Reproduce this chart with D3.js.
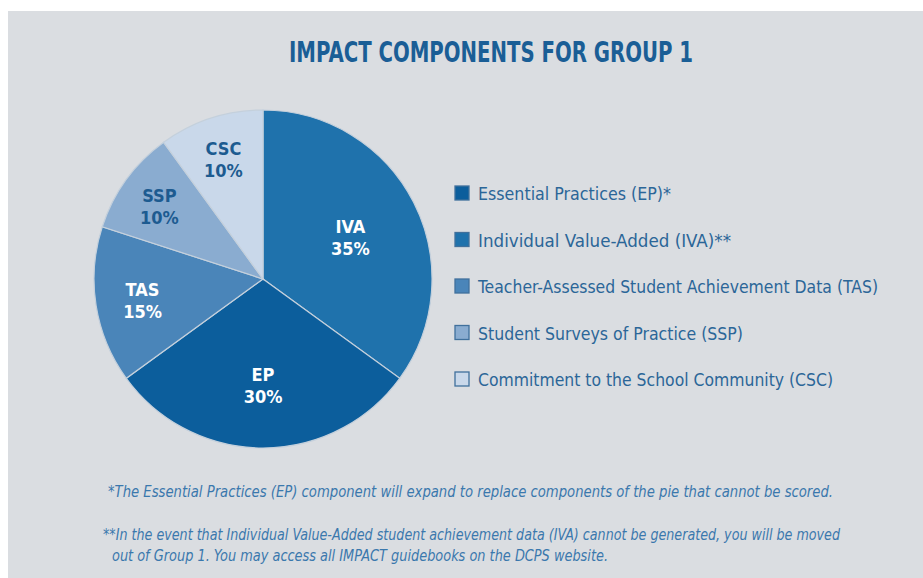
<!DOCTYPE html>
<html>
<head>
<meta charset="utf-8">
<script src="https://cdn.jsdelivr.net/npm/d3@7"></script>
<style>
  body { margin: 0; background: #fff; }
  text { font-family: "Liberation Sans Narrow", "DejaVu Sans Condensed", "Roboto", sans-serif; }
</style>
</head>
<body>
<script>
// data
var codes = ["IVA", "EP", "TAS", "SSP", "CSC"];
var values = [35, 30, 15, 10, 10];
var sliceColors = ["#1f72ac", "#0c5e9c", "#4a85b9", "#8aacd0", "#c9d8ea"];
var labelColors = ["#fff", "#fff", "#fff", "#1d5b90", "#1d5b90"];

var legendNames = [
  "Essential Practices (EP)*",
  "Individual Value-Added (IVA)**",
  "Teacher-Assessed Student Achievement Data (TAS)",
  "Student Surveys of Practice (SSP)",
  "Commitment to the School Community (CSC)"
];
var legendColors = ["#0c5e9c", "#1f72ac", "#4a85b9", "#8aacd0", "#c9d8ea"];
var legendWidths = [193, 253, 400, 265, 355];

var notes = [
  "*The Essential Practices (EP) component will expand to replace components of the pie that cannot be scored.",
  "**In the event that Individual Value-Added student achievement data (IVA) cannot be generated, you will be moved",
  " out of Group 1. You may access all IMPACT guidebooks on the DCPS website."
];

var W = 923, H = 578;
var svg = d3.select("body").append("svg")
    .attr("width", W)
    .attr("height", H);

svg.append("rect")
    .attr("x", 8).attr("y", 11)
    .attr("width", W - 8).attr("height", H - 11)
    .attr("fill", "#dadde1");

svg.append("text")
    .attr("x", 491).attr("y", 62)
    .attr("text-anchor", "middle")
    .attr("font-size", 28)
    .attr("font-weight", "bold")
    .attr("fill", "#1a5e96")
    .attr("textLength", 404)
    .attr("lengthAdjust", "spacingAndGlyphs")
    .text("IMPACT COMPONENTS FOR GROUP 1");

// pie
var cx = 263, cy = 279, R = 169;
var pie = d3.pie().sort(null).value(function(d) { return d; });
var arcs = pie(values);
var arc = d3.arc().innerRadius(0).outerRadius(R);
var labelR = d3.scaleLinear().domain([10, 35]).range([128, 98]);

var g = svg.append("g").attr("transform", "translate(" + cx + "," + cy + ")");

g.selectAll("path")
    .data(arcs)
    .enter().append("path")
    .attr("d", arc)
    .attr("fill", function(d, i) { return sliceColors[i]; })
    .attr("stroke", "#c4d0dc")
    .attr("stroke-width", 1.2);

var lab = g.selectAll("g.lab")
    .data(arcs)
    .enter().append("g")
    .attr("class", "lab")
    .attr("transform", function(d) {
        var r = labelR(d.data);
        var c = d3.arc().innerRadius(r).outerRadius(r).centroid(d);
        return "translate(" + c[0] + "," + c[1] + ")";
    });

lab.append("text")
    .attr("y", -2)
    .attr("text-anchor", "middle")
    .attr("font-size", 18)
    .attr("font-weight", "bold")
    .attr("fill", function(d, i) { return labelColors[i]; })
    .text(function(d, i) { return codes[i]; });

lab.append("text")
    .attr("y", 20)
    .attr("text-anchor", "middle")
    .attr("font-size", 18)
    .attr("font-weight", "bold")
    .attr("fill", function(d, i) { return labelColors[i]; })
    .text(function(d) { return d.data + "%"; });

// legend
var ly = d3.scalePoint().domain(d3.range(legendNames.length)).range([193, 379]);

var leg = svg.selectAll("g.leg")
    .data(legendNames)
    .enter().append("g")
    .attr("class", "leg")
    .attr("transform", function(d, i) { return "translate(455," + ly(i) + ")"; });

leg.append("rect")
    .attr("x", 0).attr("y", -7)
    .attr("width", 14).attr("height", 14)
    .attr("fill", function(d, i) { return legendColors[i]; })
    .attr("stroke", "#40709c")
    .attr("stroke-width", 1.3);

leg.append("text")
    .attr("x", 23).attr("y", 7)
    .attr("font-size", 18)
    .attr("fill", "#2b6698")
    .attr("textLength", function(d, i) { return legendWidths[i]; })
    .attr("lengthAdjust", "spacingAndGlyphs")
    .text(function(d) { return d; });

// footnotes
var noteX = [108, 103, 112], noteY = [497, 540, 561], noteW = [725, 737, 496];
svg.selectAll("text.note")
    .data(notes)
    .enter().append("text")
    .attr("class", "note")
    .attr("x", function(d, i) { return noteX[i]; })
    .attr("y", function(d, i) { return noteY[i]; })
    .attr("font-size", 15)
    .attr("font-style", "italic")
    .attr("fill", "#3a78ad")
    .attr("textLength", function(d, i) { return noteW[i]; })
    .attr("lengthAdjust", "spacingAndGlyphs")
    .text(function(d) { return d; });
</script>
</body>
</html>
